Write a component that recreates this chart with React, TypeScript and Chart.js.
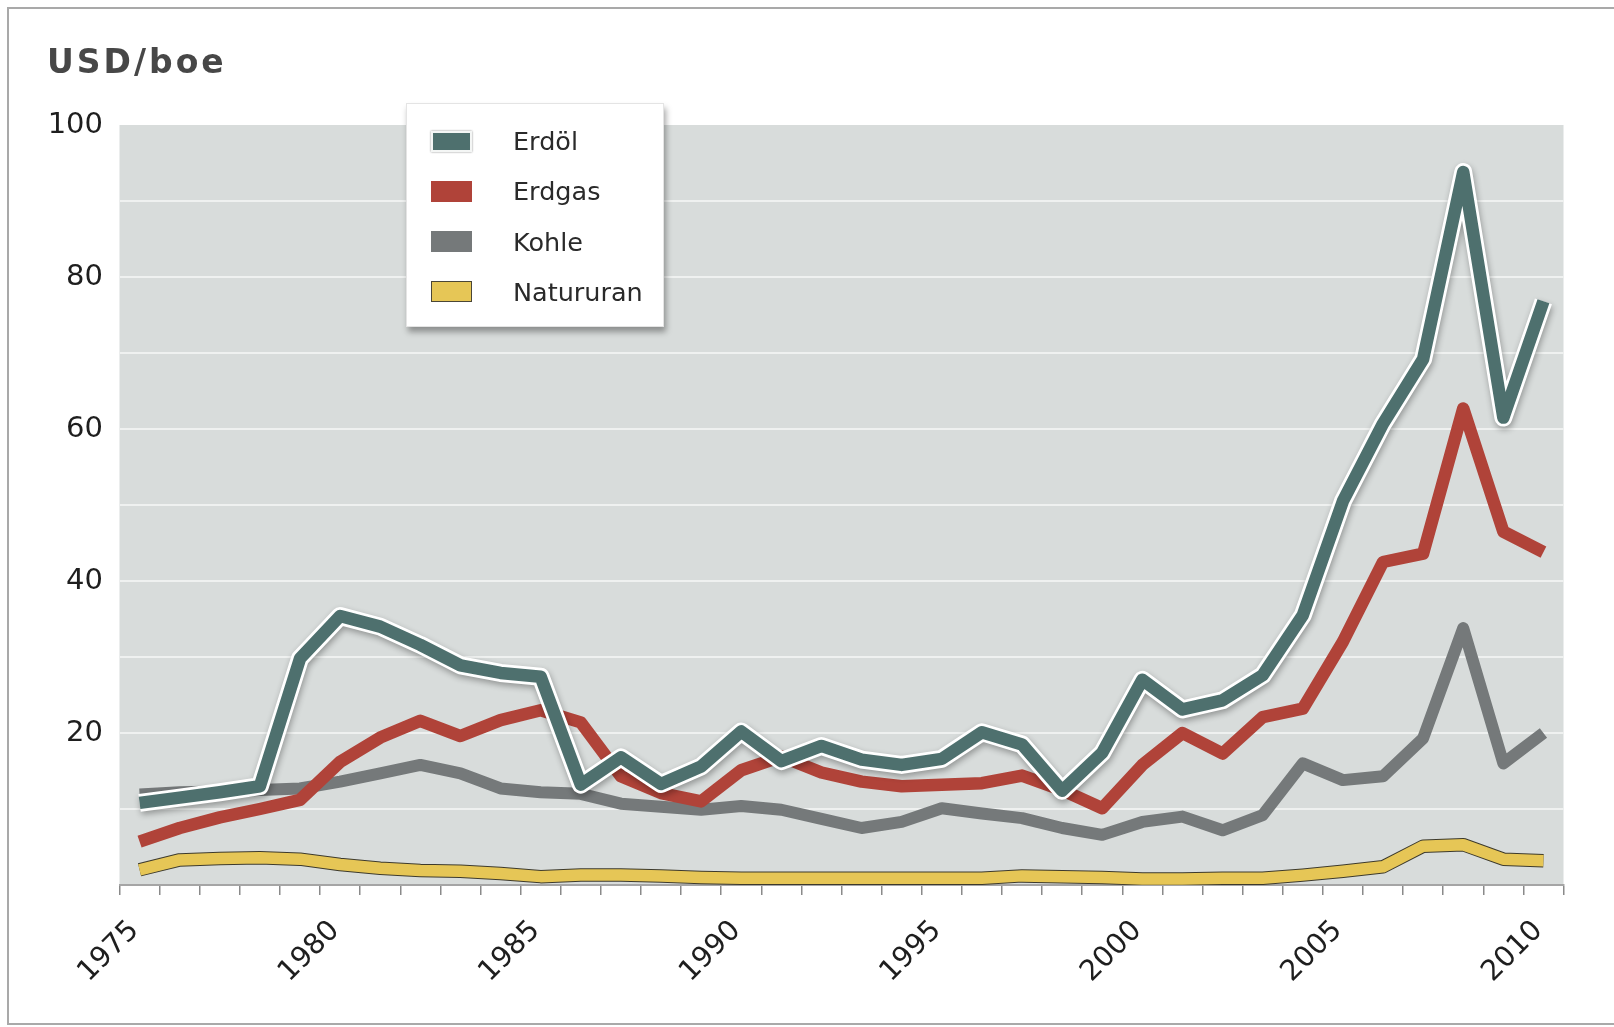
import React, { useEffect, useRef } from 'react';
import { Chart, registerables } from 'chart.js';

Chart.register(...registerables);

// ---- data ----
const years = [
  '1975', '1976', '1977', '1978', '1979', '1980', '1981', '1982', '1983', '1984',
  '1985', '1986', '1987', '1988', '1989', '1990', '1991', '1992', '1993', '1994',
  '1995', '1996', '1997', '1998', '1999', '2000', '2001', '2002', '2003', '2004',
  '2005', '2006', '2007', '2008', '2009', '2010',
];
const erdoel = [
  10.8, 11.5, 12.2, 13.0, 29.8, 35.4, 34.0, 31.6, 28.9, 27.9,
  27.4, 13.2, 16.8, 13.3, 15.6, 20.2, 16.3, 18.3, 16.5, 15.8,
  16.6, 20.1, 18.5, 12.4, 17.4, 27.0, 23.1, 24.3, 27.6, 35.5,
  50.5, 60.7, 69.2, 93.8, 61.5, 76.8,
];
const erdgas = [
  5.7, 7.5, 8.9, 10.0, 11.2, 16.2, 19.4, 21.6, 19.6, 21.7,
  23.0, 21.4, 14.3, 12.1, 11.0, 15.1, 16.9, 14.8, 13.6, 13.0,
  13.2, 13.4, 14.4, 12.5, 10.1, 15.8, 20.0, 17.3, 22.1, 23.2,
  32.0, 42.5, 43.6, 62.7, 46.5, 43.8,
];
const kohle = [
  11.9, 12.2, 12.3, 12.5, 12.7, 13.6, 14.7, 15.8, 14.7, 12.7,
  12.2, 12.0, 10.7, 10.3, 9.9, 10.4, 9.9, 8.7, 7.5, 8.3,
  10.1, 9.4, 8.8, 7.5, 6.6, 8.3, 9.0, 7.2, 9.2, 16.0,
  13.8, 14.3, 19.3, 33.8, 16.0, 20.0,
];
const natururan = [
  2.0, 3.3, 3.5, 3.6, 3.4, 2.7, 2.2, 1.9, 1.8, 1.5,
  1.1, 1.3, 1.3, 1.2, 1.0, 0.9, 0.9, 0.9, 0.9, 0.9,
  0.9, 0.9, 1.2, 1.1, 1.0, 0.8, 0.8, 0.9, 0.9, 1.3,
  1.8, 2.4, 5.1, 5.3, 3.4, 3.2,
];
const xLabelYears = ['1975', '1980', '1985', '1990', '1995', '2000', '2005', '2010'];
const yLabelValues = [20, 40, 60, 80, 100];
const seriesNames = ['Erdöl', 'Erdgas', 'Kohle', 'Natururan'];
const unitTitle = 'USD/boe';

// ---- styles ----
const COLORS = {
  erdoel: '#4e706e',
  erdgas: '#b04339',
  kohle: '#75797a',
  natururan: '#e6c656',
  plotBg: '#d8dcdb',
  grid: '#eff1f0',
};
const swatchColors = [COLORS.erdoel, COLORS.erdgas, COLORS.kohle, COLORS.natururan];
const FONT = 'DejaVu Sans, Verdana, sans-serif';

const plotPlugin = {
  id: 'plotDecor',
  beforeDraw(chart: any) {
    const { ctx, chartArea } = chart;
    if (!chartArea) return;
    ctx.save();
    ctx.fillStyle = COLORS.plotBg;
    ctx.fillRect(chartArea.left, chartArea.top, chartArea.right - chartArea.left, chartArea.bottom - chartArea.top);
    ctx.restore();
  },
  beforeDatasetDraw(chart: any, args: any) {
    const ds = chart.data.datasets[args.index];
    if (ds && ds.shadowed) {
      const ctx = chart.ctx;
      ctx.save();
      ctx.shadowColor = 'rgba(0,0,0,0.32)';
      ctx.shadowBlur = 6;
      ctx.shadowOffsetX = 1;
      ctx.shadowOffsetY = 3;
    }
  },
  afterDatasetDraw(chart: any, args: any) {
    const ds = chart.data.datasets[args.index];
    if (ds && ds.shadowed) chart.ctx.restore();
  },
};

function ChartCanvas() {
  const ref = useRef<HTMLCanvasElement | null>(null);
  useEffect(() => {
    if (!ref.current) return;
    const common = { pointRadius: 0, pointHoverRadius: 0, tension: 0, borderJoinStyle: 'round', borderCapStyle: 'butt', fill: false };
    const chart = new Chart(ref.current, {
      type: 'line',
      data: {
        labels: years,
        datasets: [
          { ...common, label: seriesNames[0], data: erdoel, borderColor: COLORS.erdoel, borderWidth: 12.5, order: 0 },
          { ...common, label: seriesNames[0] + '_outline', data: erdoel, borderColor: '#ffffff', borderWidth: 18, order: 1, shadowed: true },
          { ...common, label: seriesNames[1], data: erdgas, borderColor: COLORS.erdgas, borderWidth: 12.5, order: 2 },
          { ...common, label: seriesNames[2], data: kohle, borderColor: COLORS.kohle, borderWidth: 12, order: 3 },
          { ...common, label: seriesNames[3], data: natururan, borderColor: COLORS.natururan, borderWidth: 11.5, order: 4 },
          { ...common, label: seriesNames[3] + '_outline', data: natururan, borderColor: '#3d3a2c', borderWidth: 13.5, order: 5 },
        ] as any,
      },
      options: {
        responsive: false,
        animation: false,
        devicePixelRatio: 1,
        layout: { padding: { left: 0, top: 125, right: 50.5, bottom: 0 } },
        plugins: {
          legend: { display: false },
          tooltip: { enabled: false },
          title: { display: false },
        },
        scales: {
          x: {
            type: 'category',
            offset: true,
            grid: {
              offset: true,
              drawOnChartArea: false,
              drawTicks: true,
              tickLength: 10,
              color: '#8a8a8a',
              lineWidth: 1.5,
            },
            border: { display: true, color: '#a5a5a5', width: 2 },
            ticks: {
              autoSkip: false,
              minRotation: 45,
              maxRotation: 45,
              padding: 19,
              labelOffset: -5,
              color: '#1e1e1e',
              font: { family: FONT, size: 28.5 },
              callback: function (this: any, val: any) {
                const lab = this.getLabelForValue(val);
                return xLabelYears.includes(lab) ? lab : '';
              },
            },
            afterFit: (s: any) => { s.height = 142; },
          },
          y: {
            min: 0,
            max: 100,
            grid: {
              drawTicks: false,
              lineWidth: 2,
              color: (c: any) => (c.tick && (c.tick.value === 0 || c.tick.value === 100) ? 'rgba(0,0,0,0)' : COLORS.grid),
            },
            border: { display: false },
            ticks: {
              stepSize: 10,
              padding: 16.5,
              color: '#1e1e1e',
              font: { family: FONT, size: 29 },
              callback: (v: any) => (yLabelValues.includes(Number(v)) ? String(v) : ''),
            },
            afterFit: (s: any) => { s.width = 119.5; },
          },
        },
      } as any,
      plugins: [plotPlugin],
    });
    return () => chart.destroy();
  }, []);
  return (
    <canvas
      ref={ref}
      width={1614}
      height={1027}
      style={{ position: 'absolute', left: 0, top: 0, width: 1614, height: 1027 }}
    />
  );
}

function Legend() {
  return (
    <div
      style={{
        position: 'absolute',
        left: 406,
        top: 103,
        width: 258,
        height: 224,
        background: '#ffffff',
        border: '1px solid #e4e4e4',
        boxSizing: 'border-box',
        boxShadow: '2px 5px 6px rgba(0,0,0,0.35)',
      }}
    >
      {seriesNames.map((name, i) => {
        const isOil = i === 0;
        const isUran = i === 3;
        return (
          <div
            key={name}
            style={{
              position: 'absolute',
              left: 0,
              top: 37 + i * 50.3 - 15,
              height: 30,
              display: 'flex',
              alignItems: 'center',
            }}
          >
            <div
              style={{
                position: 'absolute',
                left: 24,
                top: 4.5,
                width: 41,
                height: 21,
                boxSizing: 'border-box',
                background: swatchColors[i],
                border: isOil ? '2px solid #f4f6f5' : isUran ? '1px solid #4a4636' : 'none',
                boxShadow: isOil ? '0 0 2px rgba(0,0,0,0.45)' : 'none',
              }}
            />
            <span
              style={{
                position: 'absolute',
                left: 106,
                top: 0,
                lineHeight: '30px',
                whiteSpace: 'nowrap',
                fontFamily: FONT,
                fontSize: 25.5,
                color: '#2a2a2a',
              }}
            >
              {name}
            </span>
          </div>
        );
      })}
    </div>
  );
}

export default function App() {
  return (
    <div
      style={{
        position: 'absolute',
        left: 0,
        top: 0,
        width: 1614,
        height: 1027,
        overflow: 'hidden',
        background: '#ffffff',
      }}
    >
      <div
        style={{
          position: 'absolute',
          left: 7,
          top: 7,
          width: 1640,
          height: 1018,
          boxSizing: 'border-box',
          borderTop: '2px solid #a9a9a9',
          borderLeft: '2px solid #a9a9a9',
          borderBottom: '2px solid #a9a9a9',
        }}
      />
      <ChartCanvas />
      <div
        style={{
          position: 'absolute',
          left: 47,
          top: 45,
          fontFamily: FONT,
          fontWeight: 'bold',
          fontSize: 33,
          lineHeight: '33px',
          letterSpacing: 3,
          color: '#474747',
          whiteSpace: 'nowrap',
        }}
      >
        {unitTitle}
      </div>
      <Legend />
    </div>
  );
}
